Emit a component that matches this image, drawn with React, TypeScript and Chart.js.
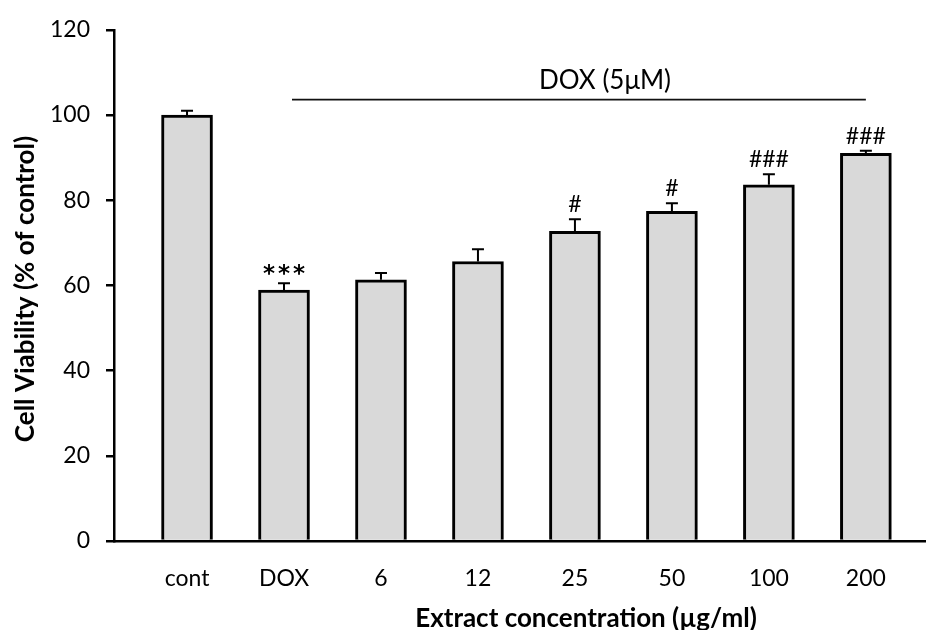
import React, { useEffect, useRef } from "react";
import { Chart, registerables } from "chart.js";

Chart.register(...registerables);

// ---- data ----
const categories = ["cont", "DOX", "6", "12", "25", "50", "100", "200"];
const viability = [100.0, 58.9, 61.3, 65.6, 72.7, 77.4, 83.6, 91.0];
const errorUp = [1.0, 1.6, 1.6, 2.9, 2.8, 1.9, 2.5, 0.6];
const significance = ["", "***", "", "", "#", "#", "###", "###"];
const yTickValues = [0, 20, 40, 60, 80, 100, 120];
const treatmentText = "DOX (5μM)";
const treatmentSpan = ["DOX", "200"];
const treatmentLineLevel = 103.6;
const xTitle = "Extract concentration (µg/ml)";
const yTitle = "Cell Viability (% of control)";

const FONT = "Lato, 'Open Sans', 'DejaVu Sans', sans-serif";

export default function App() {
  const ref = useRef<HTMLCanvasElement | null>(null);

  useEffect(() => {
    const canvas = ref.current;
    if (!canvas) return;

    const annotate = {
      id: "annotate",
      afterDatasetsDraw(chart: any) {
        const { ctx } = chart;
        const x = chart.scales.x;
        const y = chart.scales.y;
        ctx.save();
        // error bars (upper only)
        ctx.strokeStyle = "#000";
        ctx.lineWidth = 2;
        viability.forEach((v, i) => {
          const px = x.getPixelForValue(i);
          const top = y.getPixelForValue(v);
          const et = y.getPixelForValue(v + errorUp[i]);
          ctx.beginPath();
          ctx.moveTo(px, top);
          ctx.lineTo(px, et);
          ctx.moveTo(px - 6, et);
          ctx.lineTo(px + 6, et);
          ctx.stroke();
          const mark = significance[i];
          if (mark) {
            ctx.fillStyle = "#000";
            ctx.textAlign = "center";
            ctx.textBaseline = "alphabetic";
            if (mark.includes("*")) {
              ctx.font = `bold 23px 'DejaVu Sans', sans-serif`;
              (ctx as any).letterSpacing = "3px";
              ctx.fillText(mark, px + 1.5, et - 2);
            } else {
              ctx.font = `23px ${FONT}`;
              (ctx as any).letterSpacing = "0px";
              ctx.fillText(mark, px, et - 7);
            }
            (ctx as any).letterSpacing = "0px";
          }
        });
        // treatment line
        const i0 = categories.indexOf(treatmentSpan[0]);
        const i1 = categories.indexOf(treatmentSpan[1]);
        const lx0 = x.getPixelForValue(i0) + 8;
        const lx1 = x.getPixelForValue(i1);
        const ly = y.getPixelForValue(treatmentLineLevel);
        ctx.lineWidth = 1.6;
        ctx.strokeStyle = "#111";
        ctx.beginPath();
        ctx.moveTo(lx0, ly);
        ctx.lineTo(lx1, ly);
        ctx.stroke();
        ctx.fillStyle = "#000";
        ctx.font = `26px ${FONT}`;
        ctx.textAlign = "center";
        ctx.textBaseline = "alphabetic";
        ctx.fillText(treatmentText, 605, ly - 11);
        ctx.restore();
      },
      afterDraw(chart: any) {
        const { ctx } = chart;
        ctx.save();
        ctx.fillStyle = "#000";
        ctx.font = `bold 26px ${FONT}`;
        ctx.textAlign = "center";
        ctx.textBaseline = "alphabetic";
        ctx.fillText(xTitle, 586, 627);
        ctx.translate(33.5, 289);
        ctx.rotate(-Math.PI / 2);
        ctx.fillText(yTitle, 0, 0);
        ctx.restore();
      },
    };

    const chart = new Chart(canvas, {
      type: "bar",
      data: {
        datasets: [
          {
            data: viability.map((v, i) => ({ x: i, y: v })),
            backgroundColor: "#d9d9d9",
            borderColor: "#000",
            borderWidth: 3,
            barThickness: 51,
            borderSkipped: "bottom",
          },
        ],
      },
      options: {
        animation: false,
        responsive: false,
        layout: { padding: { top: 28, left: 0, right: 0, bottom: 0 } },
        plugins: { legend: { display: false }, tooltip: { enabled: false } },
        scales: {
          x: {
            type: "linear",
            min: -0.753,
            max: 7.62,
            offset: false,
            grid: { display: false, drawTicks: false },
            border: { display: true, color: "#000", width: 2.5 },
            afterBuildTicks: (s: any) => {
              s.ticks = categories.map((_, i) => ({ value: i }));
            },
            ticks: {
              autoSkip: false,
              maxRotation: 0,
              padding: 24,
              color: "#000",
              font: { family: FONT, size: 23 },
              callback: (v: any) => categories[v] ?? "",
            },
            afterFit: (s: any) => {
              s.height = 89;
            },
          },
          y: {
            min: 0,
            max: 120,
            afterBuildTicks: (s: any) => {
              s.ticks = yTickValues.map((v) => ({ value: v }));
            },
            grid: { drawOnChartArea: false, color: "#000", lineWidth: 2.5, tickLength: 8 },
            border: { display: true, color: "#000", width: 2.5 },
            ticks: {
              padding: 16,
              color: "#000",
              font: { family: FONT, size: 23 },
            },
            afterFit: (s: any) => {
              s.width = 114;
            },
          },
        },
      } as any,
      plugins: [annotate],
    });

    return () => chart.destroy();
  }, []);

  return (
    <div style={{ position: "absolute", left: 0, top: 0, width: 926, height: 630, background: "#fff" }}>
      <canvas ref={ref} width={926} height={630} style={{ display: "block" }} />
    </div>
  );
}
